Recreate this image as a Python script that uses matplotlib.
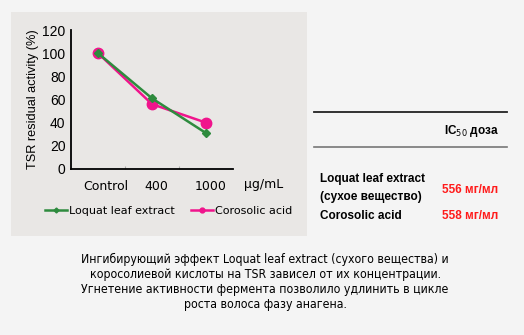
import numpy as np
import matplotlib.pyplot as plt
from matplotlib.patches import Rectangle
from matplotlib.lines import Line2D

categories = ['Control', '400', '1000']
loquat = [100, 61, 31]
corosolic = [100, 56, 40]
yticks = [0, 20, 40, 60, 80, 100, 120]

table_rows = [['Loquat leaf extract', '(сухое вещество)'], ['Corosolic acid']]
table_vals = ['556 мг/мл', '558 мг/мл']

caption = ('Ингибирующий эффект Loquat leaf extract (сухого вещества) и\n'
           'коросолиевой кислоты на TSR зависел от их концентрации.\n'
           'Угнетение активности фермента позволило удлинить в цикле\n'
           'роста волоса фазу анагена.')

W, H = 524, 335
fig = plt.figure(figsize=(W/100, H/100), dpi=100, facecolor='#f4f4f4')

# grey panel behind the chart
fig.patches.append(Rectangle((11/W, 1-236/H), 296/W, 224/H, transform=fig.transFigure,
                             facecolor='#e9e7e5', edgecolor='none', zorder=-5))

ax = fig.add_axes([71/W, 1-169/H, 162/W, 139/H])
ax.set_facecolor('none')
x = np.arange(len(categories)) + 0.5
green = '#2e8b3e'
pink = '#f0148c'
ax.plot(x, loquat, color=green, lw=1.8, marker='D', ms=4, zorder=3)
ax.plot(x, corosolic, color=pink, lw=1.8, marker='o', ms=7.5, zorder=2)
ax.set_xlim(0, 3)
ax.set_ylim(0, 120)
ax.set_yticks(yticks)
ax.set_xticks([1, 2])
ax.set_xticklabels([])
# category labels sit a bit right of the points, as in the original
ax.set_xticks(x + np.array([0.15, 0.08, 0.09]), minor=True)
ax.set_xticklabels(categories, minor=True)
ax.tick_params(axis='x', which='major', direction='in', length=2, color='#aaaaaa')
ax.tick_params(axis='x', which='minor', length=0, pad=8, labelsize=9)
ax.tick_params(axis='y', length=0, pad=4)
for lab in ax.get_yticklabels():
    lab.set_family('Liberation Sans')
    lab.set_fontsize(10)
for s in ['top', 'right']:
    ax.spines[s].set_visible(False)
for s in ['left', 'bottom']:
    ax.spines[s].set_linewidth(1.3)
ax.set_ylabel('TSR residual activity (%)', fontsize=9.2, family='Liberation Sans', labelpad=2)
ax.text(3.2, -0.108, 'µg/mL', transform=ax.get_xaxis_transform(), fontsize=9,
        ha='left', va='center')

handles = [Line2D([], [], color=green, lw=1.8, marker='D', ms=2.5),
           Line2D([], [], color=pink, lw=1.8, marker='o', ms=3.5)]
fig.legend(handles, ['Loquat leaf extract', 'Corosolic acid'], loc='center left',
           bbox_to_anchor=(35/W, 1-211/H), ncol=2, frameon=False, fontsize=8.0,
           handlelength=2.0, handletextpad=0.2, columnspacing=1.4)

# IC50 table on the right
fig.add_artist(Line2D([314/W, 507/W], [1-112/H]*2, color='#222222', lw=1.3))
fig.add_artist(Line2D([314/W, 507/W], [1-147/H]*2, color='#777777', lw=1.2))
bold = dict(family='Liberation Sans', weight='bold', fontsize=8.5)
fig.text(444/W, 1-131/H, 'IC$_{50}$ доза', ha='left', va='center', **bold)
fig.text(320/W, 1-179/H, table_rows[0][0], ha='left', va='center', **bold)
fig.text(320/W, 1-197/H, table_rows[0][1], ha='left', va='center', **bold)
fig.text(320/W, 1-216/H, table_rows[1][0], ha='left', va='center', **bold)
fig.text(442/W, 1-190/H, table_vals[0], ha='left', va='center', color='#ff1a1a', **bold)
fig.text(442/W, 1-216/H, table_vals[1], ha='left', va='center', color='#ff1a1a', **bold)

fig.text(265/W, 1-282/H, caption, ha='center', va='center', fontsize=8.8,
         family='DejaVu Sans', linespacing=1.2, stretch='condensed')

fig.savefig('out.png', dpi=100, facecolor=fig.get_facecolor())
